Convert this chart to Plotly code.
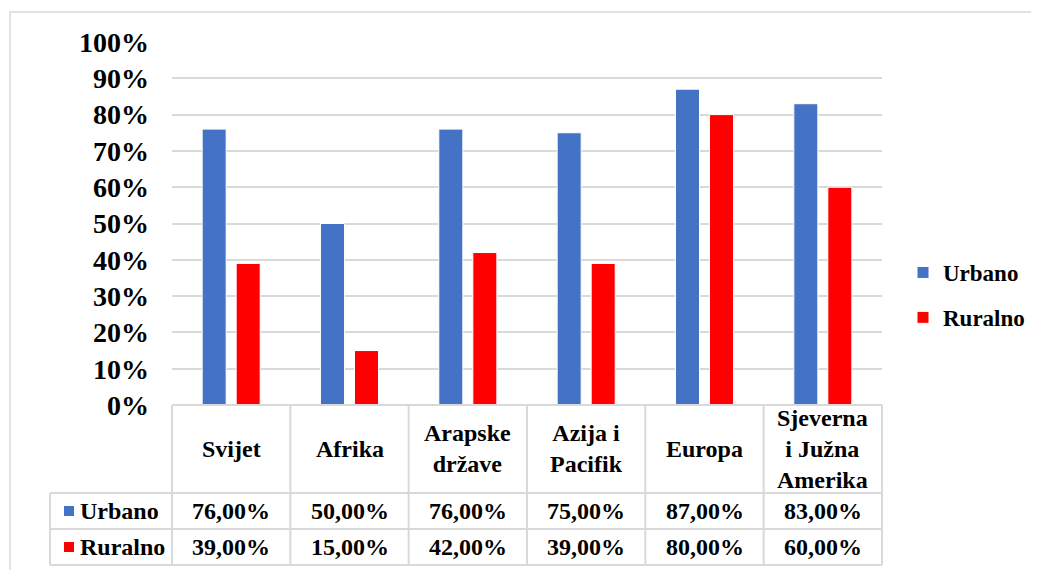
import plotly.graph_objects as go

categories = ["Svijet", "Afrika", "Arapske<br>države", "Azija i<br>Pacifik", "Europa", "Sjeverna<br>i Južna<br>Amerika"]
series_names = ["Urbano", "Ruralno"]
urbano = [0.76, 0.50, 0.76, 0.75, 0.87, 0.83]
ruralno = [0.39, 0.15, 0.42, 0.39, 0.80, 0.60]
colors = ["#4472C4", "#FF0000"]
y_ticks = [0, 0.1, 0.2, 0.3, 0.4, 0.5, 0.6, 0.7, 0.8, 0.9, 1.0]

FONT = "Liberation Serif"
OFF = 8  # page body margin
W, H = 1039 - OFF, 570 - OFF
PL, PR, PT, PB = 172, 882, 42, 405
L, T = PL - OFF, PT - OFF
R, B = W - (PR - OFF), H - (PB - OFF)
pw, ph = PR - PL, PB - PT

def px_x(p):
    return (p - PL) / pw

def px_y(p):
    return (PB - p) / ph

fig = go.Figure()
n = len(categories)
xs = list(range(n))
for i, (name, vals) in enumerate(zip(series_names, [urbano, ruralno])):
    fig.add_trace(go.Bar(
        x=xs, y=vals, name=name, marker_color=colors[i],
        legendgroup=name, marker_line=dict(color="white", width=1),
    ))

grid = "#D9D9D9"
shapes = []
shapes.append(dict(type="rect", xref="paper", yref="paper",
                   x0=px_x(10), x1=px_x(1036), y0=px_y(580), y1=px_y(12),
                   line=dict(color=grid, width=1.5), fillcolor="rgba(0,0,0,0)", layer="below"))

row_px = [PB, 493, 529, 565]
row_y = [px_y(p) for p in row_px]
left_x = px_x(50)
col_x = [i / n for i in range(n + 1)]
tline = dict(color=grid, width=2)
shapes.append(dict(type="line", xref="paper", yref="paper", x0=0, x1=1, y0=row_y[0], y1=row_y[0], line=tline))
for ry in row_y[1:]:
    shapes.append(dict(type="line", xref="paper", yref="paper", x0=left_x, x1=1, y0=ry, y1=ry, line=tline))
for cx in col_x:
    shapes.append(dict(type="line", xref="paper", yref="paper", x0=cx, x1=cx, y0=row_y[0], y1=row_y[3], line=tline))
shapes.append(dict(type="line", xref="paper", yref="paper", x0=left_x, x1=left_x, y0=row_y[1], y1=row_y[3], line=tline))

tfont = dict(family=FONT, size=24, color="black", weight="bold")
annotations = []
for i, c in enumerate(categories):
    annotations.append(dict(x=(col_x[i] + col_x[i + 1]) / 2, y=(row_y[0] + row_y[1]) / 2,
                            xref="paper", yref="paper", text=c, showarrow=False,
                            font=tfont, xanchor="center", yanchor="middle"))
for r, (name, vals) in enumerate(zip(series_names, [urbano, ruralno])):
    yc = (row_y[r + 1] + row_y[r + 2]) / 2
    sq_w = 10 / pw
    sq_h = 10 / ph
    kx = px_x(64)
    shapes.append(dict(type="rect", xref="paper", yref="paper",
                       x0=kx, x1=kx + sq_w, y0=yc - sq_h / 2, y1=yc + sq_h / 2,
                       line=dict(width=0), fillcolor=colors[r]))
    annotations.append(dict(x=px_x(78), y=yc, xref="paper", yref="paper", text=name,
                            showarrow=False, xanchor="left", yanchor="middle", font=tfont))
    for i, v in enumerate(vals):
        annotations.append(dict(x=(col_x[i] + col_x[i + 1]) / 2, y=yc, xref="paper", yref="paper",
                                text=f"{v*100:.2f}".replace(".", ",") + "%", showarrow=False,
                                xanchor="center", yanchor="middle", font=tfont))

fig.update_layout(
    width=W, height=H,
    margin=dict(l=L, r=R, t=T, b=B, pad=0, autoexpand=False),
    paper_bgcolor="white", plot_bgcolor="white",
    barmode="group", bargap=0.425, bargroupgap=0.294,
    font=dict(family=FONT, color="black"),
    xaxis=dict(range=[-0.5, n - 0.5], showticklabels=False, showgrid=False, zeroline=False,
               showline=False, ticks=""),
    yaxis=dict(range=[0, 1], tickvals=y_ticks, tickformat=".0%", showgrid=True, gridcolor=grid,
               gridwidth=1.5, zeroline=False, showline=False, ticks="", ticklabelstandoff=22,
               tickfont=dict(family=FONT, size=28, color="black", weight="bold")),
    legend=dict(x=px_x(903), y=px_y(295), xanchor="left", yanchor="middle",
                font=dict(family=FONT, size=23, color="black", weight="bold"),
                tracegroupgap=12, bgcolor="rgba(0,0,0,0)"),
    shapes=shapes, annotations=annotations,
)

fig.write_html("out.html")
